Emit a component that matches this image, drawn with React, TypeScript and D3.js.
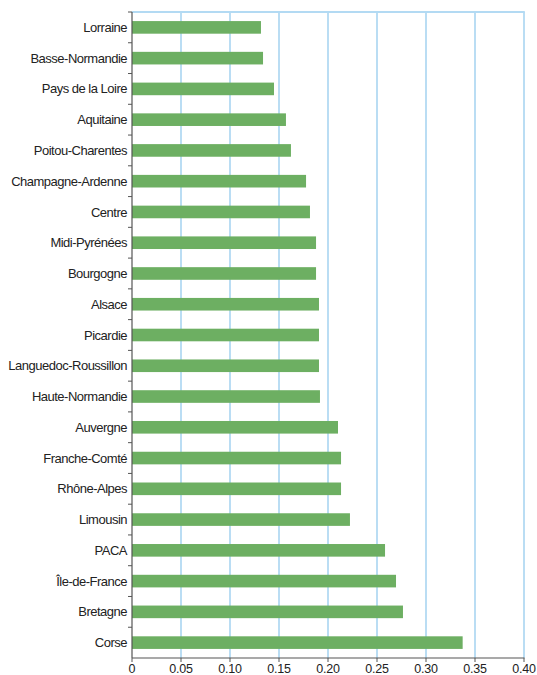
import React from "react";
import * as d3 from "d3";

const regions = [
  "Lorraine", "Basse-Normandie", "Pays de la Loire", "Aquitaine", "Poitou-Charentes",
  "Champagne-Ardenne", "Centre", "Midi-Pyrénées", "Bourgogne", "Alsace", "Picardie",
  "Languedoc-Roussillon", "Haute-Normandie", "Auvergne", "Franche-Comté", "Rhône-Alpes",
  "Limousin", "PACA", "Île-de-France", "Bretagne", "Corse",
];
const values = [
  0.1316, 0.1337, 0.1449, 0.1571, 0.1622, 0.1776, 0.1816, 0.1878, 0.1878, 0.1908, 0.1908,
  0.1908, 0.1918, 0.2102, 0.2133, 0.2133, 0.2224, 0.2582, 0.2694, 0.2765, 0.3374,
];
const xTicks = [0, 0.05, 0.1, 0.15, 0.2, 0.25, 0.3, 0.35, 0.4];
const xTickLabels = ["0", "0.05", "0.10", "0.15", "0.20", "0.25", "0.30", "0.35", "0.40"];

const W = 537, H = 675;
const left = 132, right = 524, top = 12, bottom = 658;

export default function App() {
  const x = d3.scaleLinear().domain([0, 0.4]).range([left, right]);
  const y = d3.scaleBand<string>().domain(regions).range([top, bottom]).paddingInner(0.59).paddingOuter(0.295);
  const band = d3.scaleBand<string>().domain(regions).range([top, bottom]);
  const font = "'Liberation Sans', Arial, sans-serif";
  return (
    <svg width={W} height={H} style={{ position: "absolute", left: 0, top: 0, background: "#fff" }}>
      {xTicks.slice(1).map((t) => (
        <line key={"g" + t} x1={x(t)} x2={x(t)} y1={top} y2={bottom} stroke="#a9d5f1" strokeWidth={1.6} />
      ))}
      <line x1={left} x2={right + 0.8} y1={top} y2={top} stroke="#b3daf3" strokeWidth={2} />
      {regions.map((r, i) => (
        <rect key={r} x={x(0)} y={y(r)} width={x(values[i]) - x(0)} height={y.bandwidth()} fill="#6daf62" />
      ))}
      <line x1={left} x2={left} y1={top} y2={bottom} stroke="#555" strokeWidth={1.2} />
      {regions.map((r, i) => (
        <line key={"yt" + i} x1={left - 4} x2={left} y1={band(r) as number} y2={band(r) as number} stroke="#555" strokeWidth={1} />
      ))}
      {regions.map((r) => (
        <text key={"yl" + r} x={left - 5} y={(band(r) as number) + band.bandwidth() / 2} dy="0.35em"
          textAnchor="end" fontFamily={font} fontSize={13} fill="#222" letterSpacing={-0.5}>{r}</text>
      ))}
      <line x1={left} x2={right + 0.5} y1={bottom} y2={bottom} stroke="#555" strokeWidth={1.2} />
      {xTicks.map((t, i) => (
        <g key={"xt" + t}>
          <line x1={x(t)} x2={x(t)} y1={bottom} y2={bottom + 4} stroke="#555" strokeWidth={1} />
          <text x={x(t)} y={bottom + 15} textAnchor="middle" fontFamily={font} fontSize={12.5} fill="#222" letterSpacing={-0.2}>{xTickLabels[i]}</text>
        </g>
      ))}
    </svg>
  );
}
